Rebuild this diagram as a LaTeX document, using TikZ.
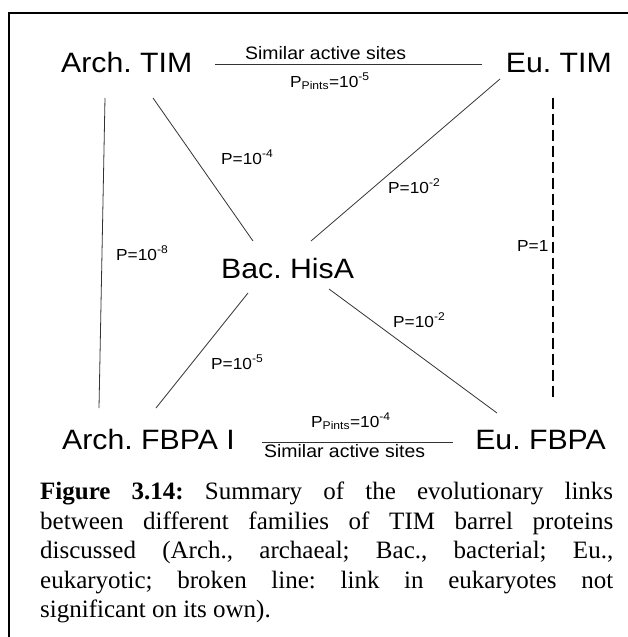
\documentclass[tikz,border=0pt]{standalone}
\usepackage{fontspec}
\setmainfont{Liberation Serif}
\newfontfamily\arialw[FakeStretch=1.08]{Liberation Sans}
\frenchspacing
\begin{document}
\begin{tikzpicture}[x=1pt,y=-1pt,
  big/.style={font=\arialw\fontsize{28}{32}\selectfont, inner sep=0pt},
  small/.style={font=\arialw\fontsize{16}{18}\selectfont, inner sep=0pt},
  mid/.style={font=\arialw\fontsize{18}{20}\selectfont, inner sep=0pt},
  link/.style={line width=0.8pt, draw=black!80},
  weak/.style={line width=1.7pt, dash pattern=on 11pt off 5pt},
  frame/.style={line width=2pt}]
\useasboundingbox (0,0) rectangle (628,637);
\draw[frame] (628,13) -- (9,13) -- (9,637);

% main nodes
\node[big, anchor=base west] (atim) at (61,72) {Arch. TIM};
\node[big, anchor=base east] (etim) at (612,72) {Eu. TIM};
\node[big, anchor=base west] (hisa) at (221,278) {Bac. HisA};
\node[big, anchor=base west] (afbpa) at (62,449) {Arch. FBPA I};
\node[big, anchor=base east] (efbpa) at (606,449) {Eu. FBPA};

% connector end points
\coordinate (t1) at (215,64);  \coordinate (t2) at (482,64);
\coordinate (b1) at (262,442); \coordinate (b2) at (453,442);
\coordinate (l1) at (105,98);  \coordinate (l2) at (99,408);
\coordinate (r1) at (553,98);  \coordinate (r2) at (553,402);
\coordinate (ah1) at (153,98); \coordinate (ah2) at (253,241);
\coordinate (eh1) at (500,79); \coordinate (eh2) at (311,241);
\coordinate (he1) at (329,289); \coordinate (he2) at (497,413);
\coordinate (ha1) at (248,293); \coordinate (ha2) at (156,408);

\draw[link] (t1) -- (t2);
\draw[link] (b1) -- (b2);
\draw[link] (l1) -- (l2);
\draw[weak] (r1) -- (r2);
\draw[link] (ah1) -- (ah2);
\draw[link] (eh1) -- (eh2);
\draw[link] (he1) -- (he2);
\draw[link] (ha1) -- (ha2);

% labels
\node[mid, anchor=base west] (sat) at (245,59) {Similar active sites};
\node[mid, anchor=base west] (sab) at (264,457) {Similar active sites};
\node[small, anchor=base west] (pt) at (290,87) {P\textsubscript{Pints}=10\textsuperscript{-5}};
\node[small, anchor=base west] (pb) at (311,427) {P\textsubscript{Pints}=10\textsuperscript{-4}};
\node[small, anchor=base west] (p4) at (221,164) {P=10\textsuperscript{-4}};
\node[small, anchor=base west] (p2a) at (388,193) {P=10\textsuperscript{-2}};
\node[small, anchor=base west] (p8) at (116,260) {P=10\textsuperscript{-8}};
\node[small, anchor=base west] (p1) at (517,251) {P=1};
\node[small, anchor=base west] (p2b) at (393,327) {P=10\textsuperscript{-2}};
\node[small, anchor=base west] (p5) at (211,369) {P=10\textsuperscript{-5}};

% caption
\node[anchor=north west, text width=573pt, inner sep=0pt, align=justify,
      font=\fontsize{25}{29.5}\selectfont] (cap) at (40,482)
 {\textbf{Figure 3.14:} Summary of the evolutionary links\linebreak
  between different families of TIM barrel proteins\linebreak
  discussed (Arch., archaeal; Bac., bacterial; Eu.,\linebreak
  eukaryotic; broken line: link in eukaryotes not\linebreak
  significant on its own).};
\end{tikzpicture}
\end{document}
